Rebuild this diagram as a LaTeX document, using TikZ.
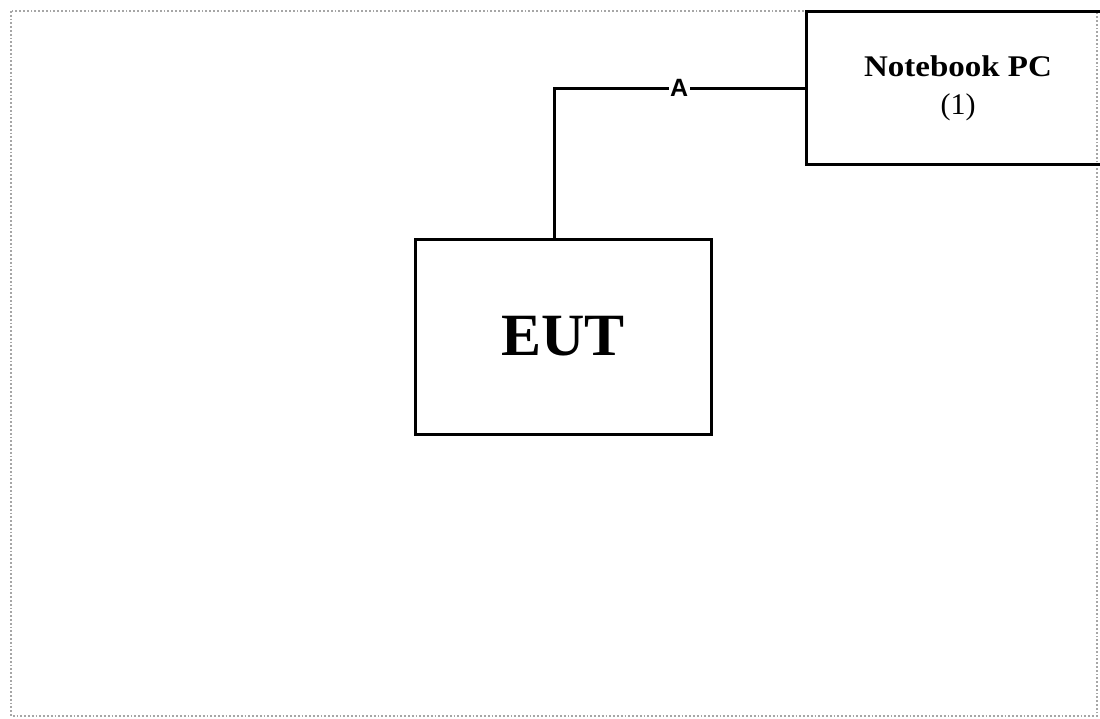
\documentclass[tikz,border=0pt]{standalone}
\usepackage{fontspec}
\setmainfont{Liberation Serif}
\newfontfamily\labelfont{Liberation Sans}
\tikzset{
  unitbox/.style={draw=black, line width=3pt, inner sep=0pt, align=center, font=\bfseries},
  wire/.style={draw=black, line width=3pt},
  wirelabel/.style={fill=white, inner sep=1.5pt, font=\labelfont\bfseries\fontsize{25}{25}\selectfont}
}
\begin{document}
\begin{tikzpicture}[x=1pt,y=-1pt]
\useasboundingbox (0,0) rectangle (1100,718);
\clip (0,0) rectangle (1100,718);
\fill[white] (0,0) rectangle (1100,718);
\draw[gray!70, line width=1.8pt, dotted] (11,11) rectangle (1097,716);
\node[unitbox, minimum width=304pt, minimum height=153pt,
      font=\bfseries\fontsize{30}{38}\selectfont] (pc) at (958,88)
  {\scalebox{1.1}[1]{Notebook PC}\\{\mdseries (1)}};
\node[unitbox, minimum width=296pt, minimum height=195pt,
      font=\bfseries\fontsize{60}{60}\selectfont] (eut) at (563,336.5) {EUT};
\draw[wire] (554,0 |- eut.north) |- (pc.west |- 0,88)
  node[wirelabel, pos=0.75] (a) {A};
\end{tikzpicture}
\end{document}
